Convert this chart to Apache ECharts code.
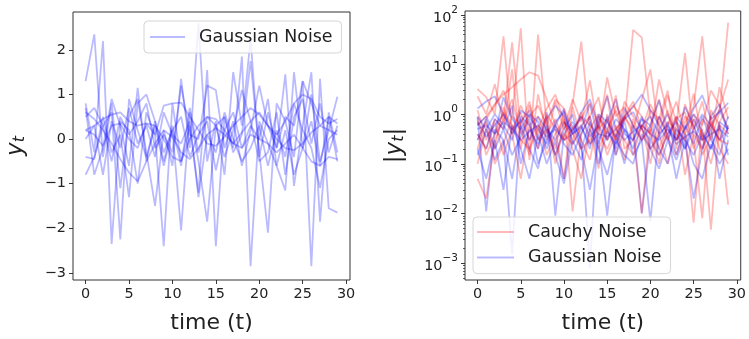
<!DOCTYPE html>
<html>
<head>
<meta charset="utf-8">
<script src="https://cdn.jsdelivr.net/npm/echarts@6/dist/echarts.min.js"></script>
<style>html,body{margin:0;padding:0;background:#fff}#c{width:749px;height:339px}</style>
</head>
<body>
<div id="c"></div>
<script>
// time steps
var timeSteps = [];
for (var i = 0; i < 30; i++) timeSteps.push(i);
var xTicks = [0, 5, 10, 15, 20, 25, 30];
var yTicksLeft = [-3, -2, -1, 0, 1, 2];
var yTicksRight = [0.001, 0.01, 0.1, 1, 10, 100];

// Left panel: Gaussian noise paths y_t
var gaussL1 = [1.3, 2.35, -0.4, 0.8, -1.1, 0.5, 0.9, -0.3, -1.5, 0.2, -0.6, 1.35, -0.2, 2.6, -0.5, 0.4, -0.8, 1.5, 0.3, 2.25, -0.4, 0.6, -0.2, 1.45, -1.05, 0.3, 1.5, -1.85, 0.6, -0.3];
var gaussL2 = [0.8, -0.3, 2.2, -2.35, 0.4, 0.2, -1.0, 0.6, 0.1, -2.4, 0.8, -0.5, 0.3, -1.2, 1.55, -2.4, 0.5, -0.2, 1.85, -2.85, 0.4, -0.1, -0.6, -1.15, 1.5, -0.2, 1.0, -0.5, 0.2, 0.95];
var gaussL3 = [-0.8, -0.4, 0.3, 0.6, -2.25, 0.9, 0.2, -0.4, 0.3, -0.6, 0.2, -2.05, 0.6, -0.5, -1.85, 0.3, 0.5, -0.3, 0.1, 1.75, -0.3, -2.1, 0.8, 0.4, -0.4, 1.3, -2.85, 1.35, -1.55, -1.65];
var gaussL4 = [0.6, 0.45, 0.2, -0.1, -0.45, -0.75, -0.95, -0.5, -0.1, 0.2, 0.05, -0.3, -0.45, -0.2, 0.1, 0.25, 0.1, -0.1, 0.15, 0.4, 0.6, 0.3, 0.0, -0.2, -0.25, -0.1, 0.15, 0.3, 0.2, 0.1];
var gaussL5 = [0.2, 0.3, 0.45, 0.55, 0.6, 0.4, 0.3, 0.35, 0.1, 0.75, 0.8, 0.82, 0.5, 0.2, -0.1, -0.15, 0.05, 0.3, 0.5, 0.7, 0.55, 0.3, 0.1, 0.4, 0.8, 1.0, 0.9, 0.5, 0.35, 0.45];
var gaussL6 = [-0.4, -0.45, 0.5, -0.3, 0.1, -1.3, 0.8, 1.0, 0.4, -0.3, 0.2, 0.5, -0.4, 0.1, 0.4, -0.7, 0.2, 0.6, -0.2, 0.3, 0.0, 0.9, -0.6, 0.2, -0.8, -0.2, 0.4, -0.6, 0.5, -0.5];
var gaussL7 = [0.2, 0.1, -0.15, 0.3, 0.35, 0.0, -0.2, 0.35, 0.3, 0.0, -0.4, -0.5, 0.0, 0.3, 0.5, 0.45, 0.2, -0.1, -0.2, 0.1, 0.0, -0.1, -0.3, -0.1, 0.1, -0.2, -0.5, -0.6, -0.4, -0.45];
var gaussL8 = [0.7, -0.8, -0.2, 0.9, 0.3, -0.6, 1.15, -0.5, 0.4, -0.5, 0.3, -0.6, 0.7, -0.3, 0.5, 0.3, -0.4, 0.2, 1.1, 0.4, -0.5, -0.3, 0.6, -0.8, 0.5, 0.9, -0.1, 0.8, -0.3, 0.3];
var gaussL9 = [0.5, 0.7, 0.3, -0.5, 0.5, 0.1, 0.4, 0.8, -0.2, 0.1, -0.3, 1.2, 0.1, 0.0, 1.2, 1.1, -0.2, 0.4, -0.6, 0.2, 1.2, 0.3, -0.2, 0.5, 0.3, 1.3, 0.8, 0.3, 0.5, 0.35];
var gaussL10 = [0.0, 0.3, -0.8, 0.4, -0.2, 0.7, -0.1, 0.3, -0.4, 0.6, 0.1, -0.1, 0.4, -1.3, 0.1, -0.3, 0.6, 0.0, -0.5, -0.2, 0.3, -0.6, 0.2, -0.4, 0.8, 0.2, -0.2, -1.1, 0.0, 0.2];

// Right panel: |y_t| for Cauchy noise
var cauchy1 = [3.2, 2.2, 1.0, 37, 0.4, 1.5, 0.6, 0.9, 0.3, 1.8, 0.5, 2.0, 0.7, 4.8, 0.4, 5.5, 0.9, 1.4, 0.6, 0.3, 1.2, 0.8, 3.0, 0.2, 1.6, 0.5, 1.8, 0.3, 1.1, 70];
var cauchy2 = [0.05, 0.02, 0.3, 0.8, 28, 0.5, 0.15, 40, 0.6, 0.2, 1.2, 0.011, 0.4, 0.9, 2.2, 0.3, 1.5, 0.7, 50, 35, 0.9, 0.2, 0.6, 1.8, 0.4, 0.0065, 0.8, 0.5, 1.3, 5.0];
var cauchy3 = [0.2, 0.8, 1.5, 3.0, 0.9, 54, 0.12, 2.5, 0.4, 0.8, 0.3, 1.6, 29, 0.5, 0.08, 1.0, 0.3, 0.9, 0.5, 2.0, 8.0, 0.4, 0.1, 0.6, 17, 0.3, 0.008, 1.2, 0.6, 0.015];
var cauchy4 = [0.6, 0.9, 1.6, 2.5, 3.5, 5.0, 7.0, 6.0, 2.0, 0.6, 0.3, 0.5, 0.9, 0.6, 0.4, 0.2, 0.5, 0.8, 1.5, 0.9, 0.4, 5.0, 1.0, 0.3, 0.7, 1.4, 37, 0.6, 0.3, 0.5];
var cauchy5 = [1.2, 0.3, 0.8, 0.5, 8.0, 0.2, 1.5, 0.4, 0.9, 0.1, 0.7, 0.3, 1.1, 0.25, 0.6, 2.5, 0.15, 0.9, 0.4, 0.01, 0.6, 2.0, 0.3, 0.8, 1.1, 0.2, 0.5, 0.0047, 0.7, 1.4];
var cauchy6 = [0.1, 0.5, 0.2, 1.4, 0.4, 0.05, 0.6, 0.2, 1.0, 0.5, 0.05, 1.4, 0.3, 0.12, 0.9, 0.4, 2.4, 0.2, 0.3, 0.6, 0.1, 0.9, 0.35, 0.15, 0.5, 2.6, 0.3, 0.9, 0.2, 0.1];
var cauchy7 = [2.3, 1.0, 4.0, 0.7, 2.0, 0.4, 0.9, 1.5, 0.6, 2.0, 1.3, 0.5, 0.8, 1.7, 0.5, 0.8, 0.3, 1.8, 0.9, 0.5, 1.6, 0.6, 2.4, 0.7, 0.4, 1.0, 0.6, 3.0, 1.5, 0.5];
var cauchy8 = [0.4, 0.2, 0.7, 0.15, 0.5, 1.1, 0.3, 0.6, 0.15, 0.4, 0.8, 0.2, 0.05, 0.5, 1.0, 0.3, 0.6, 0.12, 0.8, 0.3, 0.5, 0.15, 0.4, 0.9, 0.06, 0.4, 0.2, 0.7, 0.3, 0.25];
var cauchy9 = [0.9, 0.15, 0.4, 1.1, 0.6, 0.3, 0.2, 0.5, 1.3, 2.5, 0.7, 0.4, 0.2, 0.3, 0.6, 0.15, 0.4, 0.9, 1.8, 0.5, 0.2, 0.4, 1.2, 0.3, 0.9, 0.6, 0.15, 0.35, 3.5, 0.8];
var cauchy10 = [0.3, 0.7, 0.1, 0.25, 0.9, 0.6, 1.8, 0.3, 0.5, 0.15, 0.4, 0.25, 0.6, 0.9, 0.2, 0.5, 1.2, 0.3, 0.15, 0.6, 0.4, 0.1, 0.7, 0.5, 0.3, 0.8, 0.4, 0.1, 0.6, 0.4];

// Right panel: |y_t| for Gaussian noise
var gaussR1 = [0.85, 0.011, 0.5, 0.3, 0.0015, 0.9, 0.6, 0.2, 1.1, 0.009, 0.4, 0.7, 0.3, 0.0008, 0.9, 0.5, 0.2, 1.3, 0.6, 0.3, 0.007, 0.5, 1.0, 0.4, 0.2, 0.8, 0.3, 0.6, 1.2, 0.5];
var gaussR2 = [1.3, 1.8, 2.3, 1.0, 0.5, 0.7, 1.2, 0.3, 0.8, 1.5, 0.9, 0.4, 1.1, 2.0, 0.6, 2.3, 0.5, 0.9, 1.4, 2.5, 1.2, 0.6, 0.3, 0.9, 0.5, 1.3, 2.4, 0.8, 1.1, 1.7];
var gaussR3 = [0.5, 0.6, 0.4, 0.7, 0.5, 0.3, 0.45, 0.6, 0.35, 0.5, 0.3, 0.4, 0.55, 0.25, 0.4, 0.35, 0.5, 0.3, 0.45, 0.6, 0.4, 0.3, 0.5, 0.25, 0.35, 0.45, 0.3, 0.4, 0.5, 0.35];
var gaussR4 = [0.2, 0.05, 0.3, 0.03, 0.6, 0.2, 0.05, 0.4, 0.1, 0.3, 0.05, 0.6, 0.2, 0.03, 0.3, 0.009, 0.4, 0.1, 0.6, 0.01, 0.3, 0.15, 0.4, 0.05, 0.3, 0.02, 0.2, 0.5, 0.05, 0.3];
var gaussR5 = [0.6, 0.9, 0.4, 2.2, 0.8, 0.5, 1.0, 0.7, 0.2, 0.6, 1.3, 0.25, 0.5, 1.6, 0.3, 0.7, 2.0, 0.4, 0.3, 0.8, 0.6, 1.9, 0.5, 0.3, 1.4, 0.6, 0.2, 0.9, 1.6, 0.4];
var gaussR6 = [0.4, 0.2, 0.8, 0.5, 1.5, 0.1, 0.5, 0.25, 0.6, 0.15, 0.5, 1.0, 0.2, 0.7, 0.25, 0.9, 0.15, 0.5, 0.3, 0.9, 0.2, 0.35, 0.7, 0.15, 0.6, 0.25, 0.9, 0.3, 0.15, 0.6];
var gaussR7 = [0.15, 0.5, 0.12, 0.3, 0.05, 0.6, 0.2, 0.08, 0.5, 0.15, 0.04, 0.3, 0.12, 0.5, 0.2, 0.06, 0.3, 0.15, 0.1, 0.4, 0.2, 0.08, 0.3, 0.12, 0.4, 0.1, 0.05, 0.25, 0.1, 0.2];
var gaussR8 = [0.7, 0.35, 0.6, 1.0, 0.4, 0.8, 0.3, 0.9, 0.5, 0.3, 0.7, 0.45, 0.9, 0.35, 0.6, 0.3, 0.8, 0.5, 0.2, 0.6, 0.9, 0.4, 0.6, 0.3, 0.5, 1.0, 0.45, 0.2, 0.7, 0.5];
var gaussR9 = [0.3, 0.8, 0.2, 0.5, 0.15, 0.35, 0.8, 0.1, 0.3, 0.6, 0.25, 0.15, 0.4, 0.9, 0.1, 0.45, 0.25, 0.7, 0.15, 0.3, 0.6, 0.2, 0.1, 0.5, 0.3, 0.15, 0.4, 0.2, 0.6, 0.15];
var gaussR10 = [0.9, 0.5, 1.0, 0.6, 0.3, 1.2, 0.9, 0.5, 0.25, 0.7, 1.1, 0.4, 0.6, 0.2, 1.0, 0.7, 0.35, 0.8, 1.1, 0.5, 0.3, 0.9, 0.4, 0.7, 0.2, 0.5, 1.0, 0.6, 0.3, 0.9];

var leftSeries = [gaussL1, gaussL2, gaussL3, gaussL4, gaussL5, gaussL6, gaussL7, gaussL8, gaussL9, gaussL10];
var cauchySeries = [cauchy1, cauchy2, cauchy3, cauchy4, cauchy5, cauchy6, cauchy7, cauchy8, cauchy9, cauchy10];
var gaussRightSeries = [gaussR1, gaussR2, gaussR3, gaussR4, gaussR5, gaussR6, gaussR7, gaussR8, gaussR9, gaussR10];

var BLUE = 'rgba(0,0,255,0.27)';
var RED = 'rgba(255,0,0,0.27)';
var FONT = 'DejaVu Sans';
var TICK = { color: '#222', width: 0.9 };

function pairs(arr) { return arr.map(function (v, i) { return [timeSteps[i], v]; }); }
function lineSeries(name, data, color, xi, yi) {
  return {
    name: name, type: 'line', xAxisIndex: xi, yAxisIndex: yi,
    data: pairs(data), showSymbol: false, symbol: 'none', silent: true, animation: false,
    lineStyle: { color: color, width: 1.8 }, itemStyle: { color: color }
  };
}

var series = [];
leftSeries.forEach(function (d) { series.push(lineSeries('Gaussian Noise', d, BLUE, 0, 0)); });
for (var k = 0; k < 10; k++) {
  series.push(lineSeries('Cauchy Noise', cauchySeries[k], RED, 1, 1));
  series.push(lineSeries('Gaussian Noise', gaussRightSeries[k], BLUE, 1, 1));
}

var minorLog = [];
[-4, -3, -2, -1, 0, 1].forEach(function (e) {
  for (var m = 2; m <= 9; m++) minorLog.push(m * Math.pow(10, e));
});

function xAxisCfg(gi) {
  return {
    type: 'value', gridIndex: gi, min: -1.45, max: 30.45, position: 'bottom',
    axisLine: { show: false, onZero: false },
    splitLine: { show: false },
    axisTick: { show: true, length: 4, lineStyle: TICK, customValues: xTicks },
    axisLabel: { color: '#222', fontSize: 14.4, fontFamily: FONT, margin: 7, customValues: xTicks },
    name: 'time (t)', nameLocation: 'middle', nameGap: 32,
    nameTextStyle: { color: '#222', fontSize: 22, fontFamily: FONT }
  };
}

function sup(e) {
  var s = (e < 0 ? '\u2212' : '') + Math.abs(e);
  return '{b|10}{s|' + s + '}';
}

function legendCfg(left, top, names, itemWidth, pad, gap) {
  return {
    left: left, top: top, orient: 'vertical', data: names.map(function (n) { return { name: n, icon: 'rect' }; }),
    itemWidth: itemWidth, itemHeight: 2, itemGap: gap, padding: pad,
    backgroundColor: 'rgba(255,255,255,0.8)', borderColor: '#d5d5d5', borderWidth: 1, borderRadius: 4,
    textStyle: { fontSize: 17.4, lineHeight: 18, fontFamily: FONT, color: '#222', padding: [0, 0, 0, 9] },
    selectedMode: false, z: 10
  };
}

var option = {
  backgroundColor: '#fff',
  animation: false,
  grid: [
    { left: 73, top: 12, width: 277, height: 271, show: true, borderColor: '#333', borderWidth: 1, backgroundColor: 'transparent' },
    { left: 465, top: 11, width: 277, height: 272, show: true, borderColor: '#333', borderWidth: 1, backgroundColor: 'transparent' }
  ],
  xAxis: [xAxisCfg(0), xAxisCfg(1)],
  yAxis: [
    {
      type: 'value', gridIndex: 0, min: -3.16, max: 2.85, position: 'left',
      axisLine: { show: false, onZero: false }, splitLine: { show: false },
      axisTick: { show: true, length: 4, lineStyle: TICK, customValues: yTicksLeft },
      axisLabel: { color: '#222', fontSize: 14.4, fontFamily: FONT, margin: 7, customValues: yTicksLeft,
        formatter: function (v) { return (v < 0 ? '\u2212' : '') + Math.abs(Math.round(v)); } },
      name: '{i|y}{sub|t}', nameLocation: 'middle', nameGap: 45, nameRotate: 90,
      nameTextStyle: { rich: {
        i: { fontSize: 23, fontStyle: 'italic', fontFamily: FONT, color: '#222' },
        sub: { fontSize: 16, fontStyle: 'italic', fontFamily: FONT, color: '#222', verticalAlign: 'bottom', padding: [8, 0, 0, 0] }
      } }
    },
    {
      type: 'log', logBase: 10, gridIndex: 1, min: 0.000457, max: 120, position: 'left',
      axisLine: { show: false, onZero: false }, splitLine: { show: false }, minorTick: { show: false },
      axisTick: { show: true, length: 4, lineStyle: TICK, customValues: yTicksRight },
      axisLabel: { color: '#222', fontSize: 14.4, fontFamily: FONT, margin: 7, customValues: yTicksRight,
        formatter: function (v) { return sup(Math.round(Math.log(v) / Math.LN10)); },
        rich: {
          b: { fontSize: 14.4, fontFamily: FONT, color: '#222', lineHeight: 20, verticalAlign: 'bottom' },
          s: { fontSize: 10.5, fontFamily: FONT, color: '#222', lineHeight: 20, verticalAlign: 'top' }
        } },
      name: '|{i|y}{sub|t}|', nameLocation: 'middle', nameGap: 58, nameRotate: 90,
      nameTextStyle: { fontSize: 23, fontFamily: FONT, color: '#222', rich: {
        i: { fontSize: 23, fontStyle: 'italic', fontFamily: FONT, color: '#222' },
        sub: { fontSize: 16, fontStyle: 'italic', fontFamily: FONT, color: '#222', verticalAlign: 'bottom', padding: [8, 0, 0, 0] }
      } }
    },
    {
      type: 'log', logBase: 10, gridIndex: 1, min: 0.000457, max: 120, position: 'left', offset: 0,
      axisLine: { show: false, onZero: false }, splitLine: { show: false }, axisLabel: { show: false },
      axisTick: { show: true, length: 2, lineStyle: { color: '#222', width: 0.7 }, customValues: minorLog }
    }
  ],
  legend: [
    legendCfg(144, 21, ['Gaussian Noise'], 35, [7, 9, 7, 6], 10),
    legendCfg(473, 217, ['Cauchy Noise', 'Gaussian Noise'], 37, [6, 9, 7, 4], 7.6)
  ],
  series: series
};

var chart = echarts.init(document.getElementById('c'), null, { renderer: 'canvas' });
chart.setOption(option);
</script>
</body>
</html>
